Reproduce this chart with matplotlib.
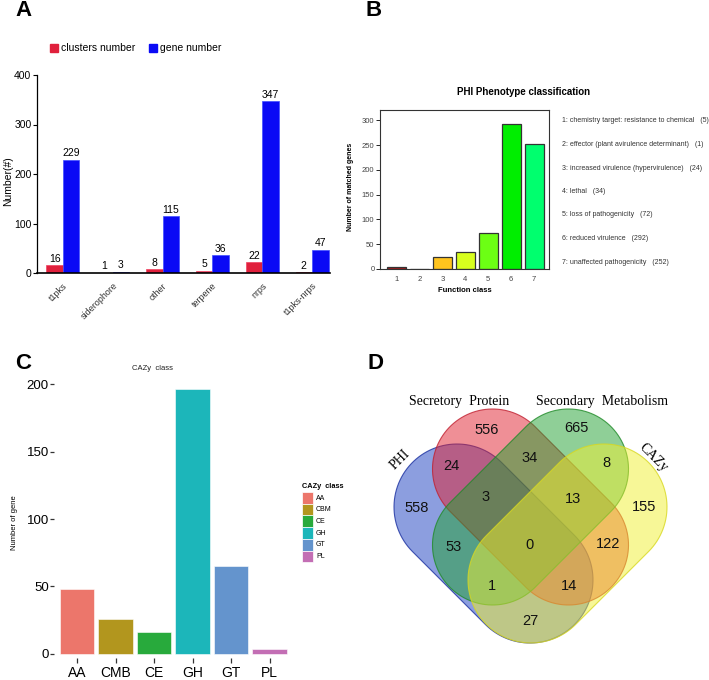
import numpy as np
import matplotlib.pyplot as plt
from matplotlib.patches import Polygon, Rectangle

plt.rcParams['font.family'] = ['Liberation Sans', 'DejaVu Sans']

# ---- data ----
# A: secondary metabolism clusters
smcat = ['t1pks', 'siderophore', 'other', 'terpene', 'nrps', 't1pks-nrps']
clusters = [16, 1, 8, 5, 22, 2]
genes = [229, 3, 115, 36, 347, 47]

# B: PHI phenotype classification
phi_class = [1, 2, 3, 4, 5, 6, 7]
phi_count = [5, 1, 24, 34, 72, 292, 252]
phi_desc = ['chemistry target: resistance to chemical',
            'effector (plant avirulence determinant)',
            'increased virulence (hypervirulence)',
            'lethal',
            'loss of pathogenicity',
            'reduced virulence',
            'unaffected pathogenicity']
phi_colors = ['#B0181A', '#E02020', '#FFC41E', '#D8FF1E', '#6CFF14', '#00EE00', '#00FF6E']

# C: CAZy classes
cazy_cat = ['AA', 'CMB', 'CE', 'GH', 'GT', 'PL']
cazy_legend = ['AA', 'CBM', 'CE', 'GH', 'GT', 'PL']
cazy_count = [48, 26, 16, 196, 65, 4]
cazy_colors = ['#EC766B', '#B2961E', '#28AA3C', '#1CB6BA', '#6494CD', '#C36EB4']

# D: venn region counts
venn_counts = [556, 665, 24, 34, 8, 558, 3, 13, 155, 53, 0, 122, 1, 14, 27]

W, H = 709, 680
fig = plt.figure(figsize=(W / 100, H / 100), dpi=100)


def rect(l, t, r, b):
    return [l / W, 1 - b / H, (r - l) / W, (b - t) / H]


# ---- panel A ----
axA = fig.add_axes(rect(37, 75, 330, 273))
x = np.arange(len(smcat))
bw = 0.33
axA.bar(x - bw / 2, clusters, bw, color='#E0203C', edgecolor='#F04060', lw=0.5)
axA.bar(x + bw / 2, genes, bw, color='#0A0AF5', edgecolor='#4050FF', lw=0.5)
for xi, c, g in zip(x, clusters, genes):
    axA.text(xi - bw / 2, c + 3, str(c), ha='center', va='bottom', fontsize=7.5)
    axA.text(xi + bw / 2, g + 3, str(g), ha='center', va='bottom', fontsize=7.5)
axA.set_xlim(-0.52, 5.36)
axA.set_ylim(0, 400)
axA.set_yticks([0, 100, 200, 300, 400])
axA.set_xticks(x)
axA.set_xticklabels(smcat, rotation=45, ha='right', rotation_mode='anchor',
                    fontsize=6.5, color='#333333')
axA.tick_params(axis='x', length=0, pad=6)
axA.tick_params(axis='y', length=3, width=0.8, labelsize=7.5, pad=1)
for s in ['top', 'right']:
    axA.spines[s].set_visible(False)
axA.spines['left'].set_linewidth(0.9)
axA.spines['bottom'].set_linewidth(1.2)

# ---- panel B ----
axB = fig.add_axes(rect(380, 110, 549, 269))
axB.bar(phi_class, phi_count, 0.83, color=phi_colors, edgecolor='#333333', lw=0.9)
axB.set_xlim(0.27, 7.65)
axB.set_ylim(0, 321)
axB.set_yticks([0, 50, 100, 150, 200, 250, 300])
axB.set_xticks(phi_class)
axB.tick_params(axis='x', length=0, pad=5, labelsize=5.5, labelcolor='#444444')
axB.tick_params(axis='y', length=3, width=0.6, labelsize=5.5, labelcolor='#444444', pad=1)
for s in axB.spines.values():
    s.set_linewidth(0.8)
    s.set_color('#333333')
axB.set_xlabel('Function class', fontsize=5.5, fontweight='bold', labelpad=3)

# ---- panel C ----
axC = fig.add_axes(rect(54, 376, 292.6, 658))
xc = np.arange(len(cazy_cat))
axC.bar(xc, cazy_count, 0.9, color=cazy_colors, edgecolor='white', lw=0.4)
axC.set_xlim(-0.6, 5.6)
axC.set_ylim(-3, 206)
axC.set_yticks([0, 50, 100, 150, 200])
axC.set_xticks(xc)
axC.set_xticklabels(cazy_cat)
axC.tick_params(axis='y', length=3.2, width=0.9, color='#333333', labelsize=9.5, pad=0.5)
axC.tick_params(axis='x', length=3.6, width=0.9, color='#333333', labelsize=10, pad=2)
for s in axC.spines.values():
    s.set_visible(False)

# ---- overlay in pixel coordinates ----
ov = fig.add_axes([0, 0, 1, 1])
ov.set_xlim(0, W)
ov.set_ylim(H, 0)
ov.axis('off')

# panel letters
for lab, px, py in [('A', 23.5, 11), ('B', 374, 11), ('C', 23.5, 363.5), ('D', 375.5, 363.5)]:
    ov.text(px, py, lab, fontsize=16, fontweight='bold', ha='center', va='center')

# A legend and y label
ov.add_patch(Rectangle((50, 44), 8, 8, color='#E0203C'))
ov.text(61, 48, 'clusters number', fontsize=7.5, va='center')
ov.add_patch(Rectangle((149, 44), 8, 8, color='#0A0AF5'))
ov.text(160, 48, 'gene number', fontsize=7.5, va='center')
ov.text(8, 181, 'Number(#)', fontsize=7.5, rotation=90, ha='center', va='center')

# B title, y label and class list
ov.text(524, 92, 'PHI Phenotype classification', fontsize=7, fontweight='bold',
        ha='center', va='center')
ov.text(350, 187, 'Number of matched genes', fontsize=5, fontweight='bold',
        rotation=90, ha='center', va='center')
for i, (c, d, v) in enumerate(zip(phi_class, phi_desc, phi_count)):
    ov.text(562, 121 + i * 23.5, f'{c}: {d}   ({v})', fontsize=5.05,
            color='#333333', va='center')

# C title, y label and legend
ov.text(152, 368, 'CAZy  class', fontsize=5.5, ha='center', va='center', color='#222222')
ov.text(15, 523, 'Number of gene', fontsize=5.5, rotation=90, ha='center', va='center')
ov.text(302, 486, 'CAZy  class', fontsize=5.3, fontweight='bold', va='center')
for i, (lab, col) in enumerate(zip(cazy_legend, cazy_colors)):
    y0 = 492 + i * 11.7
    ov.add_patch(Rectangle((302, y0), 11, 11.7, facecolor=col, edgecolor='white', lw=0.5))
    ov.text(316, y0 + 6, lab, fontsize=5, va='center')


# D: venn made of four rotated capsules
def capsule(p1, p2, r, n=60):
    p1 = np.array(p1, float)
    p2 = np.array(p2, float)
    th = np.arctan2(*(p2 - p1)[::-1])
    a2 = np.linspace(th - np.pi / 2, th + np.pi / 2, n)
    a1 = np.linspace(th + np.pi / 2, th + 3 * np.pi / 2, n)
    arc2 = p2 + r * np.c_[np.cos(a2), np.sin(a2)]
    arc1 = p1 + r * np.c_[np.cos(a1), np.sin(a1)]
    return np.vstack([arc2, arc1])


venn_sets = [
    # p1, p2, radius, fill, edge
    ((457, 507), (530, 580), 63, '#1A3FC0', '#1A2FA0'),   # PHI
    ((492.5, 469), (568.5, 545), 60, '#E0202E', '#C02030'),  # Secretory Protein
    ((568.5, 469), (492.5, 545), 60, '#20A030', '#208A28'),  # Secondary Metabolism
    ((604, 507), (531, 580), 63, '#F0F030', '#D8D820'),   # CAZy
]
for p1, p2, r, fc, ec in venn_sets:
    ov.add_patch(Polygon(capsule(p1, p2, r), closed=True, facecolor=fc,
                         alpha=0.5, edgecolor='none'))
    ov.add_patch(Polygon(capsule(p1, p2, r), closed=True, facecolor='none',
                         edgecolor=ec, lw=0.8, alpha=0.8))

venn_pos = [(486.7, 430), (576, 428.3), (451.7, 465.7), (530, 457.7), (606, 463.3),
            (416.7, 508.3), (486, 497.3), (572.7, 499.3), (644, 507.3),
            (454, 546.7), (530, 545.3), (608.3, 544.3),
            (492, 586), (568.7, 585.7), (530.7, 621)]
for (px, py), v in zip(venn_pos, venn_counts):
    ov.text(px, py, str(v), fontsize=10.5, ha='center', va='center', color='#111111')

serif = ['Liberation Serif', 'DejaVu Serif']
ov.text(459, 401, 'Secretory  Protein', family=serif, fontsize=10, ha='center', va='center')
ov.text(602, 401, 'Secondary  Metabolism', family=serif, fontsize=10, ha='center', va='center')
ov.text(400, 460, 'PHI', family=serif, fontsize=10, rotation=45, ha='center', va='center')
ov.text(653, 458, 'CAZy', family=serif, fontsize=10, rotation=-45, ha='center', va='center')

fig.savefig('out.png', dpi=100)
